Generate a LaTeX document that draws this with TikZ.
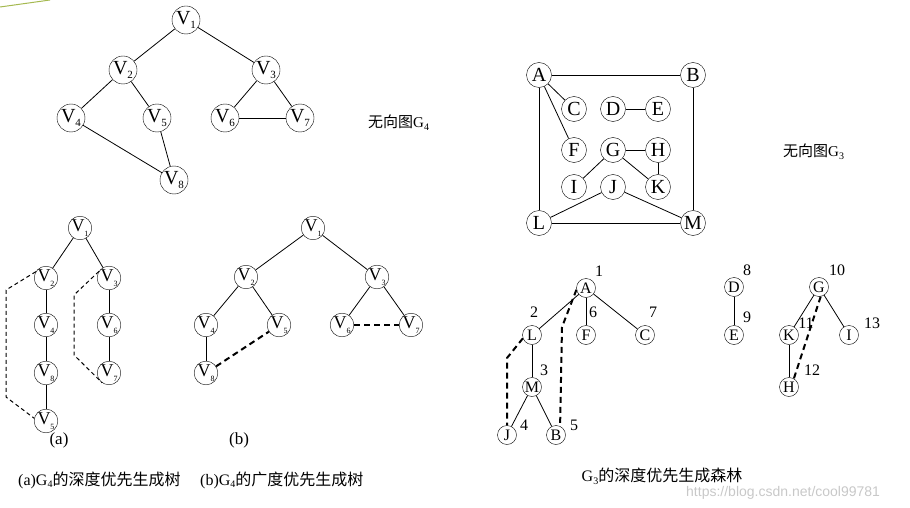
\documentclass[tikz,border=0pt]{standalone}
\usepackage{fontspec}
\setmainfont{Liberation Serif}
\newfontfamily\cjk{Noto Sans CJK SC}
\newfontfamily\wmfont{Liberation Sans}
\usetikzlibrary{positioning}
\definecolor{deco}{RGB}{165,185,80}
\definecolor{mark}{RGB}{200,200,200}
\newcommand{\bv}[1]{V\raisebox{-0.4ex}{\fontsize{11}{11}\selectfont #1}}
\newcommand{\sv}[1]{V\raisebox{-0.55ex}{\fontsize{8}{8}\selectfont #1}}

\begin{document}
\begin{tikzpicture}[x=1pt, y=-1pt,
  bigv/.style={draw, circle, minimum size=28pt, inner sep=0pt, font=\fontsize{20}{20}\selectfont},
  smallv/.style={draw, circle, minimum size=22pt, inner sep=0pt, font=\fontsize{18}{18}\selectfont},
  letter/.style={draw, circle, minimum size=25pt, inner sep=0pt, font=\fontsize{20}{20}\selectfont},
  leaf/.style={draw, circle, minimum size=19pt, inner sep=0pt, font=\fontsize{16}{16}\selectfont},
  tline/.style={line width=0.8pt},
  dfsback/.style={line width=1pt, dash pattern=on 4pt off 3pt},
  thickback/.style={line width=2pt, dash pattern=on 6pt off 4pt},
  num/.style={inner sep=0pt, font=\fontsize{16}{16}\selectfont},
  capt/.style={inner sep=0pt, font=\fontsize{16}{16}\selectfont},
]
  \useasboundingbox (0,0) rectangle (910,508);
  \draw[deco, line width=1pt] (0,7) -- (50,0);

  % undirected graph G4
  \node[bigv] (g4v1) at (186,20) {\bv{1}};
  \node[bigv] (g4v2) at (123,70) {\bv{2}};
  \node[bigv] (g4v3) at (266,70) {\bv{3}};
  \node[bigv] (g4v4) at (71,118) {\bv{4}};
  \node[bigv] (g4v5) at (157,118) {\bv{5}};
  \node[bigv] (g4v6) at (225,118) {\bv{6}};
  \node[bigv] (g4v7) at (300,118) {\bv{7}};
  \node[bigv] (g4v8) at (174,180) {\bv{8}};
  \foreach \a/\b in {1/2,1/3,2/4,2/5,3/6,3/7,6/7,4/8,5/8}
    \draw[tline] (g4v\a) -- (g4v\b);
  \node[capt, font=\fontsize{15}{15}\selectfont, anchor=west] (g4lab) at (368,123) {{\cjk 无向图}G\raisebox{-0.4ex}{\fontsize{10}{10}\selectfont 4}};

  % (a) depth-first spanning tree
  \node[smallv] (av1) at (80,228) {\sv{1}};
  \node[smallv] (av2) at (46,278) {\sv{2}};
  \node[smallv] (av4) at (46,325) {\sv{4}};
  \node[smallv] (av8) at (46,373) {\sv{8}};
  \node[smallv] (av5) at (46,421) {\sv{5}};
  \node[smallv] (av3) at (109,278) {\sv{3}};
  \node[smallv] (av6) at (109,325) {\sv{6}};
  \node[smallv] (av7) at (109,373) {\sv{7}};
  \foreach \a/\b in {1/2,1/3,2/4,4/8,8/5,3/6,6/7}
    \draw[tline] (av\a) -- (av\b);
  \draw[dfsback] (av2.148) -- (6,290) -- (6,397) -- (av5.167);
  \draw[dfsback] (av3.146) -- (74,295) -- (74,355) -- (av7.235);
  \node[capt, font=\fontsize{17}{17}\selectfont] (alab) at (59,440) {(a)};

  % (b) breadth-first spanning tree
  \node[smallv] (bv1) at (313,228) {\sv{1}};
  \node[smallv] (bv2) at (246,277) {\sv{2}};
  \node[smallv] (bv3) at (377,277) {\sv{3}};
  \node[smallv] (bv4) at (206,325) {\sv{4}};
  \node[smallv] (bv5) at (279,325) {\sv{5}};
  \node[smallv] (bv6) at (342,325) {\sv{6}};
  \node[smallv] (bv7) at (411,325) {\sv{7}};
  \node[smallv] (bv8) at (206,373) {\sv{8}};
  \foreach \a/\b in {1/2,1/3,2/4,2/5,3/6,3/7,4/8}
    \draw[tline] (bv\a) -- (bv\b);
  \draw[thickback] (bv8) -- (bv5);
  \draw[thickback] (bv6) -- (bv7);
  \node[capt, font=\fontsize{17}{17}\selectfont] (blab) at (239,440) {(b)};

  \node[capt, anchor=west] (acap) at (18,480) {(a)G\raisebox{-0.4ex}{\fontsize{10}{10}\selectfont 4}{\cjk 的深度优先生成树}};
  \node[capt, anchor=west] (bcap) at (200,480) {(b)G\raisebox{-0.4ex}{\fontsize{10}{10}\selectfont 4}{\cjk 的广度优先生成树}};

  % undirected graph G3
  \node[letter] (g3a) at (539,75) {A};
  \node[letter] (g3b) at (693,75) {B};
  \node[letter] (g3c) at (574,109) {C};
  \node[letter] (g3d) at (613,109) {D};
  \node[letter] (g3e) at (658,109) {E};
  \node[letter] (g3f) at (574,150) {F};
  \node[letter] (g3g) at (613,150) {G};
  \node[letter] (g3h) at (658,150) {H};
  \node[letter] (g3i) at (574,187) {I};
  \node[letter] (g3j) at (613,187) {J};
  \node[letter] (g3k) at (658,187) {K};
  \node[letter] (g3l) at (539,223) {L};
  \node[letter] (g3m) at (693,223) {M};
  \foreach \a/\b in {a/b,a/c,a/f,a/l,b/m,l/m,d/e,g/h,g/i,g/k,h/k,j/l,j/m}
    \draw[tline] (g3\a) -- (g3\b);
  \node[capt, font=\fontsize{15}{15}\selectfont, anchor=west] (g3lab) at (783,152) {{\cjk 无向图}G\raisebox{-0.4ex}{\fontsize{10}{10}\selectfont 3}};

  % depth-first spanning forest of G3
  \node[leaf] (fa) at (586,288) {A};
  \node[leaf] (fl) at (532,335) {L};
  \node[leaf] (ff) at (586,335) {F};
  \node[leaf] (fc) at (645,335) {C};
  \node[leaf] (fm) at (532,387) {M};
  \node[leaf] (fj) at (507,435) {J};
  \node[leaf] (fb) at (556,435) {B};
  \node[leaf] (fd) at (734,287) {D};
  \node[leaf] (fe) at (734,335) {E};
  \node[leaf] (fg) at (819,287) {G};
  \node[leaf] (fk) at (789,335) {K};
  \node[leaf] (fi) at (849,335) {I};
  \node[leaf] (fh) at (789,387) {H};
  \foreach \a/\b in {a/l,a/f,a/c,l/m,m/j,m/b,d/e,g/k,g/i,k/h}
    \draw[tline] (f\a) -- (f\b);
  \draw[thickback] (fl.200) -- (507,358) -- (fj.north);
  \draw[thickback] (fa.190) -- (562,327) -- (fb.65);
  \draw[thickback] (fg.280) -- (fh.60);
  \foreach \n/\x/\y in {1/599/271,2/534/312,6/593/312,7/653/312,3/544/370,4/524/425,5/574/425,
                        8/747/270,9/747/317,10/837/270,11/806/323,13/872/323,12/812/370}
    \node[num] (n\n) at (\x,\y) {\n};
  \node[capt] (fcap) at (662,476) {G\raisebox{-0.4ex}{\fontsize{10}{10}\selectfont 3}{\cjk 的深度优先生成森林}};

  \node[inner sep=0pt, anchor=west, text=mark, font=\wmfont\fontsize{14}{14}\selectfont] (wm) at (686,493) {https://blog.csdn.net/cool99781};
\end{tikzpicture}
\end{document}
